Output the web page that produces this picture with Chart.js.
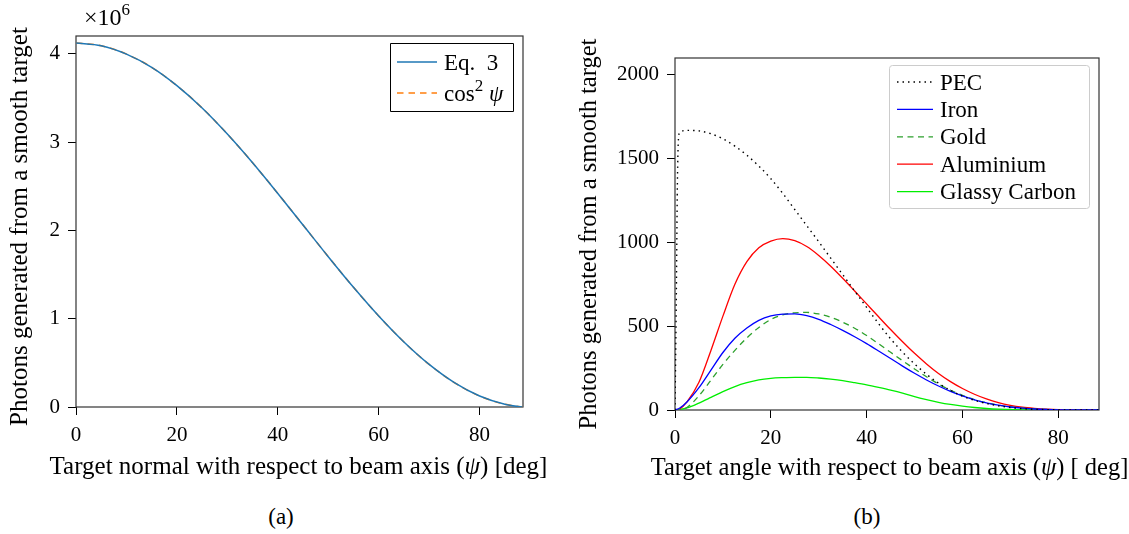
<!DOCTYPE html>
<html>
<head>
<meta charset="utf-8">
<script src="https://cdn.jsdelivr.net/npm/chart.js@4/dist/chart.umd.min.js"></script>
<style>
  html, body { margin: 0; padding: 0; background: #fff; }
  #wrap { position: relative; width: 1129px; height: 534px; overflow: hidden; background: #fff; }
  #left { position: absolute; left: 0; top: 0; }
  #right { position: absolute; left: 560px; top: 0; }
  .cap { position: absolute; top: 504px; width: 60px; line-height: 26px; text-align: center;
         font-size: 23px; font-family: 'Liberation Serif'; color: #000; }
</style>
</head>
<body>
<div id="wrap">
  <canvas id="left" width="560" height="490"></canvas>
  <canvas id="right" width="569" height="490"></canvas>
  <div class="cap" style="left:251px">(a)</div>
  <div class="cap" style="left:837px">(b)</div>
</div>
<script>
// ---- (a) photons vs. target normal angle ----
const normalAngles = [0, 5, 10, 15, 20, 25, 30, 35, 40, 45, 50, 55, 60, 65, 70, 75, 80, 85, 88.5];
const eq3Photons = [4120000, 4090000, 3995000, 3845000, 3638000, 3385000, 3090000, 2765000, 2418000,
  2060000, 1702000, 1355000, 1030000, 736000, 482000, 276000, 124000, 31000, 1000];
const cosSquaredPhotons = [4120000, 4090000, 3995000, 3845000, 3638000, 3385000, 3090000, 2765000, 2418000,
  2060000, 1702000, 1355000, 1030000, 736000, 482000, 276000, 124000, 31000, 1000];
const normalAngleTicks = [0, 20, 40, 60, 80];
const photonMillionTicks = [0, 1, 2, 3, 4];

// ---- (b) photons vs. target angle for several materials ----
const pecAngles = [0, 0.25, 0.5, 0.75, 1, 2.5, 5, 7.5, 10, 12.5, 15, 17.5, 20, 22.5, 25, 27.5, 30, 32.5, 35,
  37.5, 40, 42.5, 45, 47.5, 50, 52.5, 55, 57.5, 60, 62.5, 65, 67.5, 70, 72.5, 75, 77.5, 80, 82.5, 85, 88.5];
const pecPhotons = [0, 600, 1350, 1630, 1655, 1668, 1665, 1648, 1618, 1574, 1520, 1455, 1380, 1292, 1196,
  1100, 1004, 906, 808, 710, 612, 515, 425, 345, 275, 213, 160, 117, 83, 58, 39, 25, 15, 8, 4, 2, 1, 0, 0, 0];
const materialAngles = [0, 1, 2.5, 5, 7.5, 10, 12.5, 15, 17.5, 20, 22.5, 25, 27.5, 30, 32.5, 35, 37.5, 40,
  42.5, 45, 47.5, 50, 52.5, 55, 57.5, 60, 62.5, 65, 67.5, 70, 72.5, 75, 77.5, 80, 82.5, 85, 88.5];
const ironPhotons = [0, 12, 48, 133, 238, 343, 428, 489, 535, 561, 572, 574, 563, 541, 510, 475, 437, 396,
  352, 307, 262, 219, 179, 143, 111, 84, 61, 43, 29, 18, 11, 6, 3, 1, 0, 0, 0];
const goldPhotons = [0, 2, 15, 85, 178, 272, 356, 430, 492, 540, 568, 580, 582, 573, 553, 524, 488, 444,
  395, 344, 294, 245, 198, 155, 118, 87, 62, 43, 29, 18, 11, 6, 3, 1, 0, 0, 0];
const aluminiumPhotons = [0, 6, 48, 165, 355, 560, 750, 885, 968, 1008, 1023, 1010, 975, 922, 858, 786, 710,
  633, 556, 480, 407, 338, 275, 218, 169, 128, 94, 66, 44, 28, 17, 10, 5, 2, 1, 0, 0];
const glassyCarbonPhotons = [0, 3, 12, 41, 75, 110, 140, 163, 180, 189, 193, 195, 195, 191, 184, 175, 163,
  150, 135, 119, 101, 80, 62, 46, 33, 23, 15, 9, 5, 3, 1, 0, 0, 0, 0, 0, 0];
const targetAngleTicks = [0, 20, 40, 60, 80];
const photonTicks = [0, 500, 1000, 1500, 2000];

const SERIF = '"Liberation Serif"';
Chart.defaults.font.family = SERIF;
Chart.defaults.color = '#000';

const points = (xs, ys) => xs.map((x, i) => ({ x, y: ys[i] }));

// Text with superscripts (², ⁶) and an italic psi.
function textRuns(text) {
  const runs = [];
  for (const ch of text) {
    let kind = 'n', c = ch;
    if (ch === '²') { kind = 'sup'; c = '2'; }
    else if (ch === '⁶') { kind = 'sup'; c = '6'; }
    else if (ch === 'ψ') { kind = 'it'; }
    const last = runs[runs.length - 1];
    if (last && last.kind === kind) last.text += c; else runs.push({ kind, text: c });
  }
  return runs;
}
function runFont(kind, size) {
  if (kind === 'sup') return Math.round(size * 0.72) + 'px ' + SERIF;
  if (kind === 'it') return 'italic ' + size + 'px ' + SERIF;
  return size + 'px ' + SERIF;
}
function drawRich(ctx, text, x, cy, size, align) {
  const runs = textRuns(text);
  ctx.save();
  ctx.textBaseline = 'alphabetic';
  ctx.textAlign = 'left';
  ctx.fillStyle = '#000';
  let total = 0;
  for (const r of runs) { ctx.font = runFont(r.kind, size); r.w = ctx.measureText(r.text).width; total += r.w; }
  let cx = align === 'center' ? x - total / 2 : x;
  const base = cy + size * 0.33;
  for (const r of runs) {
    ctx.font = runFont(r.kind, size);
    ctx.fillText(r.text, cx, r.kind === 'sup' ? base - size * 0.42 : base);
    cx += r.w;
  }
  ctx.restore();
}

// Box around the plotting area.
const framePlugin = {
  id: 'frame',
  beforeDatasetsDraw(chart, args, o) {
    const { left, right, top, bottom } = chart.chartArea;
    const ctx = chart.ctx;
    ctx.save();
    ctx.strokeStyle = o.color;
    ctx.lineWidth = o.width;
    ctx.strokeRect(left, top, right - left, bottom - top);
    ctx.restore();
  }
};

// Axis titles and the exponent label, drawn without width squeezing.
const captionPlugin = {
  id: 'captions',
  afterDraw(chart, args, o) {
    const ctx = chart.ctx;
    const { left, right, top, bottom } = chart.chartArea;
    drawRich(ctx, o.xText, (left + right) / 2 + o.xShift, bottom + o.xGap, o.size, 'center');
    ctx.save();
    ctx.translate(left - o.yGap, (top + bottom) / 2 + o.yShift);
    ctx.rotate(-Math.PI / 2);
    drawRich(ctx, o.yText, 0, 0, o.size, 'center');
    ctx.restore();
    if (o.offsetText) drawRich(ctx, o.offsetText, o.offsetX, o.offsetY, o.offsetSize, 'left');
  }
};

// Framed legend inside the plot, built from the datasets' own styles.
const boxLegendPlugin = {
  id: 'boxLegend',
  afterDraw(chart, args, o) {
    const ctx = chart.ctx;
    ctx.save();
    ctx.beginPath();
    if (ctx.roundRect) ctx.roundRect(o.x, o.y, o.w, o.h, o.radius); else ctx.rect(o.x, o.y, o.w, o.h);
    ctx.fillStyle = '#fff';
    ctx.fill();
    ctx.strokeStyle = o.stroke;
    ctx.lineWidth = 1;
    ctx.stroke();
    chart.data.datasets.forEach((ds, i) => {
      const y = o.firstRow + i * o.rowGap;
      ctx.beginPath();
      ctx.setLineDash(ds.borderDash || []);
      ctx.strokeStyle = ds.borderColor;
      ctx.lineWidth = ds.borderWidth;
      ctx.moveTo(o.handleFrom, y);
      ctx.lineTo(o.handleTo, y);
      ctx.stroke();
      ctx.setLineDash([]);
      drawRich(ctx, ds.label, o.textX, y, o.fontSize, 'left');
    });
    ctx.restore();
  }
};

function axisPair(xTicks, yTicks, xMax, yMax, yWidth, xHeight, yFormat, tickSize, xPad, yPad) {
  const grid = { display: true, drawOnChartArea: false, drawTicks: true, tickLength: 8, tickColor: '#000', tickWidth: 1 };
  const tickFont = { family: SERIF, size: tickSize };
  return {
    x: {
      type: 'linear', min: 0, max: xMax,
      grid, border: { display: false },
      afterBuildTicks: s => { s.ticks = xTicks.map(v => ({ value: v })); },
      afterFit: s => { s.height = xHeight; },
      ticks: { font: tickFont, color: '#000', padding: xPad, maxRotation: 0, autoSkip: false,
               callback: v => String(v) }
    },
    y: {
      type: 'linear', min: 0, max: yMax,
      grid, border: { display: false },
      afterBuildTicks: s => { s.ticks = yTicks.map(v => ({ value: v })); },
      afterFit: s => { s.width = yWidth; },
      ticks: { font: tickFont, color: '#000', padding: yPad, autoSkip: false, callback: yFormat }
    }
  };
}

const common = {
  responsive: false,
  animation: false,
  events: [],
  elements: { point: { radius: 0 }, line: { tension: 0, cubicInterpolationMode: 'monotone' } }
};

const TICK = 21;
const charts = [];

charts.push(new Chart(document.getElementById('left'), {
  type: 'line',
  data: {
    datasets: [
      { label: 'Eq.  3', data: points(normalAngles, eq3Photons), borderColor: '#1f77b4', borderWidth: 1.5, fill: false },
      { label: 'cos² ψ', data: points(normalAngles, cosSquaredPhotons), borderColor: '#ff7f0e', borderWidth: 1.5,
        borderDash: [6.5, 5], fill: false }
    ]
  },
  options: Object.assign({}, common, {
    layout: { padding: { left: 0, right: 37, top: 36, bottom: 0 } },
    scales: axisPair(normalAngleTicks, photonMillionTicks.map(v => v * 1e6), 88.6, 4.2e6, 76, 83,
      v => String(v / 1e6), TICK, 8, 8),
    plugins: {
      legend: { display: false }, tooltip: { enabled: false },
      frame: { color: '#333', width: 1.2 },
      captions: { xText: 'Target normal with respect to beam axis (ψ) [deg]', xShift: -1, xGap: 59,
                  yText: 'Photons generated from a smooth target', yGap: 57, yShift: 5, size: 25,
                  offsetText: '×10⁶', offsetX: 84, offsetY: 17, offsetSize: 24 },
      boxLegend: { x: 390.5, y: 43.5, w: 123, h: 68, radius: 0, stroke: '#000',
                   firstRow: 62, rowGap: 31, handleFrom: 397, handleTo: 437, textX: 444, fontSize: 23 }
    }
  }),
  plugins: [framePlugin, captionPlugin, boxLegendPlugin]
}));

charts.push(new Chart(document.getElementById('right'), {
  type: 'line',
  data: {
    datasets: [
      { label: 'PEC', data: points(pecAngles, pecPhotons), borderColor: '#000', borderWidth: 1.4,
        borderDash: [1.5, 4], fill: false },
      { label: 'Iron', data: points(materialAngles, ironPhotons), borderColor: '#0000ff', borderWidth: 1.3, fill: false },
      { label: 'Gold', data: points(materialAngles, goldPhotons), borderColor: '#2ca02c', borderWidth: 1.3,
        borderDash: [6, 4.5], fill: false },
      { label: 'Aluminium', data: points(materialAngles, aluminiumPhotons), borderColor: '#ff0000', borderWidth: 1.3, fill: false },
      { label: 'Glassy Carbon', data: points(materialAngles, glassyCarbonPhotons), borderColor: '#00ee00', borderWidth: 1.3, fill: false }
    ]
  },
  options: Object.assign({}, common, {
    layout: { padding: { left: 0, right: 30, top: 58, bottom: 0 } },
    scales: axisPair(targetAngleTicks, photonTicks, 88.5, 2100, 115, 80, v => String(v), TICK, 8, 8),
    plugins: {
      legend: { display: false }, tooltip: { enabled: false },
      frame: { color: '#333', width: 1.2 },
      captions: { xText: 'Target angle with respect to beam axis (ψ) [ deg]', xShift: 2.5, xGap: 57,
                  yText: 'Photons generated from a smooth target', yGap: 87, yShift: 0, size: 24.5 },
      boxLegend: { x: 329.5, y: 65.5, w: 200, h: 143, radius: 3, stroke: '#cccccc',
                   firstRow: 82, rowGap: 27.4, handleFrom: 337, handleTo: 373, textX: 380, fontSize: 23 }
    }
  }),
  plugins: [framePlugin, captionPlugin, boxLegendPlugin]
}));

// Redraw once the serif face is surely available to the canvas.
function redraw() { charts.forEach(c => c.update('none')); }
if (document.fonts) document.fonts.ready.then(redraw);
</script>
</body>
</html>
